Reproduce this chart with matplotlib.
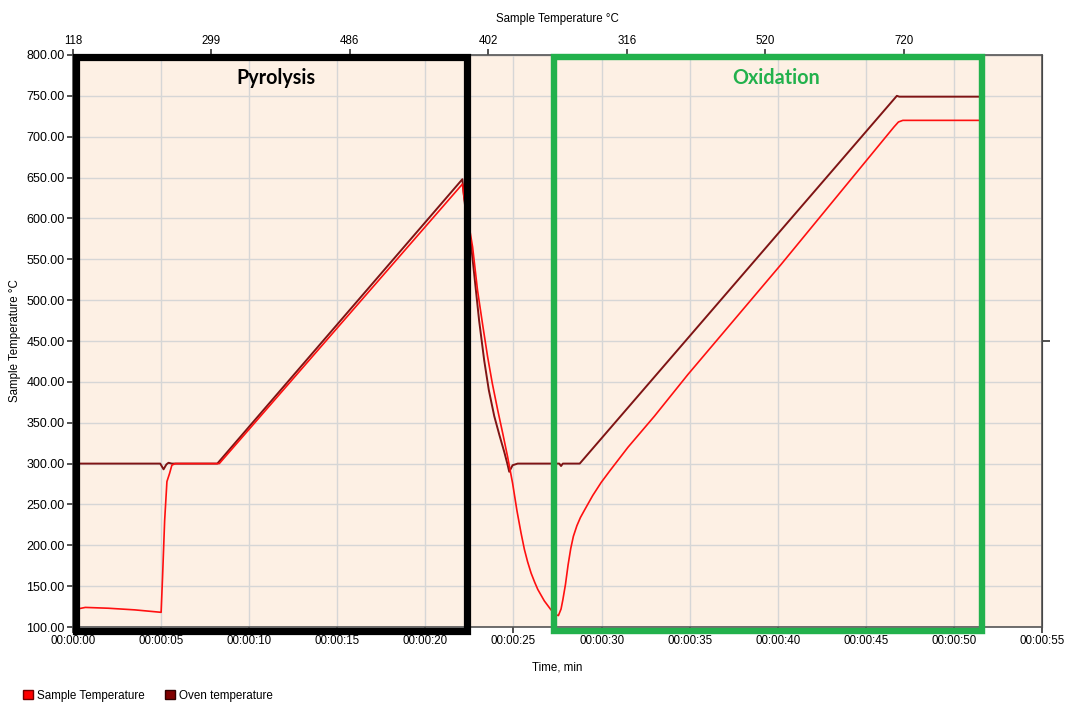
import matplotlib.pyplot as plt
import matplotlib.ticker as mticker
from matplotlib.patches import Patch, Rectangle

plt.rcParams['font.family'] = ['Liberation Sans', 'DejaVu Sans']

# oven set temperature, minutes vs degC
oven_t = [0, 4.95, 5.14, 5.3, 5.42, 5.6, 8.19, 22.1, 22.2, 22.35, 22.58, 22.77,
          23.05, 23.34, 23.6, 23.91, 24.2, 24.48, 24.65, 24.76, 24.95, 25.24,
          27.6, 27.7, 27.8, 28.76, 46.76, 46.9, 51.42]
oven_T = [300, 300, 293, 299, 301, 300, 300, 648, 625, 598, 570, 532,
          475, 426, 390, 358, 335, 314, 300, 290, 298, 300,
          300, 297, 300, 300, 750, 749, 749]

# measured sample temperature
sample_t = [0, 0.7, 2.0, 3.5, 5.0, 5.08, 5.2, 5.33, 5.48, 5.61, 5.8, 6.0, 8.3,
            22.1, 22.2, 22.45, 22.68, 22.96, 23.25, 23.53, 23.8, 24.1, 24.4,
            24.67, 24.95, 25.2, 25.43, 25.62, 25.8, 26.0, 26.2, 26.38, 26.75,
            27.13, 27.42, 27.55, 27.7, 27.8, 27.95, 28.1, 28.25, 28.4, 28.6,
            28.8, 29.03, 29.5, 29.98, 30.5, 31.0, 31.5, 32.25, 33.0, 34.9,
            40.2, 45.0, 46.6, 46.85, 47.1, 47.5, 51.42]
sample_T = [121, 124, 123, 121, 118, 160, 230, 278, 288, 298, 300, 300, 300,
            642, 625, 595, 565, 512, 470, 431, 398, 366, 336,
            308, 276, 242, 215, 195, 180, 166, 155, 146, 132,
            121, 115, 114, 122, 133, 152, 176, 196, 211, 224,
            234, 243, 261, 277, 292, 306, 320, 339, 358, 409,
            544, 670, 712, 718, 720, 720, 720]

top_labels = ['118', '299', '486', '402', '316', '520', '720']

fig = plt.figure(figsize=(10.66, 7.05), dpi=100)
ax = fig.add_axes([0.0685, 0.1106, 0.9090, 0.8114])
ax.set_facecolor('#FDF0E4')

ax.plot(oven_t, oven_T, color='#7F1414', lw=1.4, zorder=3)
ax.plot(sample_t, sample_T, color='#FF1010', lw=1.2, zorder=4)

ax.set_xlim(0, 55)
ax.set_ylim(100, 800)
ax.xaxis.set_major_locator(mticker.MultipleLocator(5))
ax.yaxis.set_major_locator(mticker.MultipleLocator(50))
ax.xaxis.set_major_formatter(mticker.FuncFormatter(lambda v, p: '00:00:%02d' % int(round(v))))
ax.yaxis.set_major_formatter(mticker.FormatStrFormatter('%.2f'))
ax.grid(True, color='#D6D6D6', lw=1.0, zorder=1)
ax.set_axisbelow(True)
ax.tick_params(labelsize=8.3, length=4, width=1.2, color='#333333', pad=2)
ax.tick_params(axis='y', labelsize=9)
for s in ax.spines.values():
    s.set_color('#555555')
    s.set_linewidth(1.2)

ax.set_xlabel('Time, min', fontsize=8.3, labelpad=10)
ax.set_ylabel('Sample Temperature °C', fontsize=8.3, labelpad=4)

top = ax.secondary_xaxis('top')
top.set_xticks([i * 55 / 7 for i in range(7)])
top.set_xticklabels(top_labels)
top.tick_params(labelsize=8.3, length=4, width=1.2, color='#333333', pad=2)
top.set_xlabel('Sample Temperature °C', fontsize=8.3, labelpad=9)

right = ax.secondary_yaxis('right')
right.set_yticks([450])
right.set_yticklabels([''])
right.tick_params(length=6, width=1.2, color='#333333')

# stage boxes
ax.add_patch(Rectangle((0.17, 95.5), 22.18, 702.5, fill=False, ec='black',
                       lw=5.2, clip_on=False, zorder=6))
ax.add_patch(Rectangle((27.28, 95.5), 24.32, 702.5, fill=False, ec='#22B14C',
                       lw=4.6, clip_on=False, zorder=6))
ax.text(11.5, 772, 'Pyrolysis', ha='center', va='center', fontsize=14.2,
        fontweight='bold', family='Lato', color='black', zorder=7)
ax.text(39.9, 772, 'Oxidation', ha='center', va='center', fontsize=14.2,
        fontweight='bold', family='Lato', color='#22B14C', zorder=7)

handles = [Patch(facecolor='#FF0000', edgecolor='#700000', label='Sample Temperature'),
           Patch(facecolor='#800000', edgecolor='#300000', label='Oven temperature')]
fig.legend(handles=handles, loc='lower left', bbox_to_anchor=(0.012, -0.01),
           ncol=2, frameon=False, fontsize=8.4, handlelength=0.8,
           handleheight=0.8, handletextpad=0.35, columnspacing=1.8)

fig.savefig('out.png', dpi=100)
